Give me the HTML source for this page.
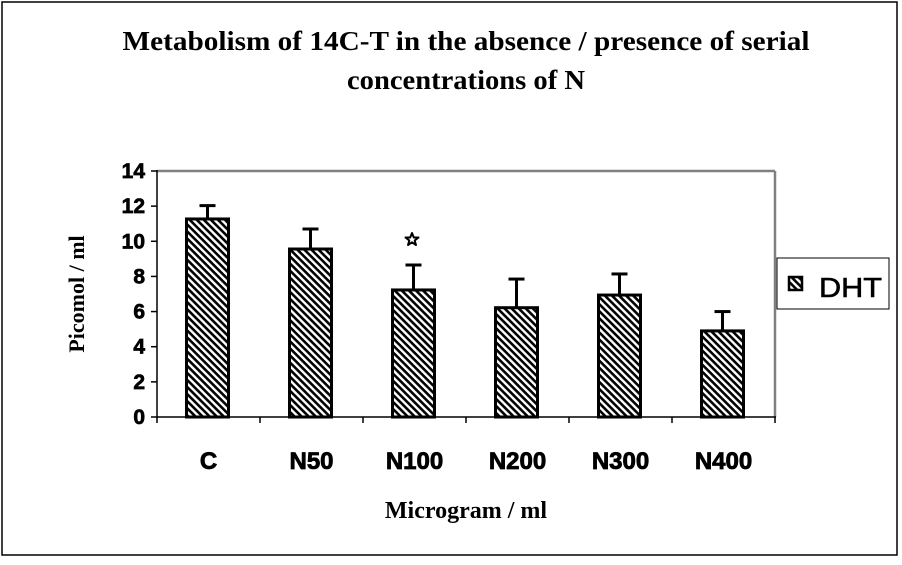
<!DOCTYPE html>
<html><head><meta charset="utf-8"><style>
body{margin:0;background:#fff}
</style></head><body>
<svg id="chart" width="902" height="560" xmlns="http://www.w3.org/2000/svg">
<defs>
<pattern id="hatch" width="5" height="5" patternUnits="userSpaceOnUse" patternTransform="rotate(45)">
<rect width="5" height="5" fill="#fff"/><rect width="5" height="2.6" fill="#000"/>
</pattern>
</defs>
<rect x="2" y="2" width="895" height="553" fill="#fff" stroke="#000" stroke-width="1.5"/>
<text x="466" y="50" text-anchor="middle" font-size="27" font-weight="bold" font-family="Liberation Serif,serif" textLength="687" lengthAdjust="spacingAndGlyphs">Metabolism of 14C-T in the absence / presence of serial</text>
<text x="466" y="89" text-anchor="middle" font-size="27" font-weight="bold" font-family="Liberation Serif,serif" textLength="238" lengthAdjust="spacingAndGlyphs">concentrations of N</text>
<line x1="157" y1="171" x2="775" y2="171" stroke="#808080" stroke-width="2.5"/>
<line x1="775" y1="171" x2="775" y2="417" stroke="#808080" stroke-width="2.5"/>
<g id="marks"></g>
<line x1="157" y1="170" x2="157" y2="418" stroke="#000" stroke-width="1.5"/>
<line x1="157" y1="417" x2="776" y2="417" stroke="#000" stroke-width="1.5"/>
<polygon points="412,233 413.8,237.5 418.5,237.5 414.7,240.5 416,245 412,242.3 408,245 409.3,240.5 405.5,237.5 410.2,237.5" fill="#fff" stroke="#000" stroke-width="2" stroke-linejoin="round"/>
<text transform="translate(84,294) rotate(-90)" text-anchor="middle" font-size="22" font-weight="bold" font-family="Liberation Serif,serif">Picomol / ml</text>
<text x="466" y="518" text-anchor="middle" font-size="24" font-weight="bold" font-family="Liberation Serif,serif">Microgram / ml</text>
<g>
<rect x="777" y="258" width="112" height="51" fill="#fff" stroke="#000" stroke-width="1"/>
<rect x="789" y="277" width="13" height="13" fill="url(#hatch)" stroke="#000" stroke-width="2.5"/>
<text x="819" y="297" font-size="28" font-family="Liberation Sans,sans-serif" stroke="#000" stroke-width="0.6" textLength="63" lengthAdjust="spacingAndGlyphs">DHT</text>
</g>
</svg>
<script>
const categories=["C","N50","N100","N200","N300","N400"];
const values=[11.27,9.56,7.23,6.22,6.94,4.9];
const errors=[0.76,1.14,1.42,1.63,1.2,1.1];
const yTicks=[0,2,4,6,8,10,12,14];
const NS="http://www.w3.org/2000/svg";
const x0=157,x1=775,y0=417,y1=171,yMax=14;
const band=(x1-x0)/categories.length;
const ys=v=>y0-(v/yMax)*(y0-y1);
const xc=i=>x0+band*(i+0.5);
const g=document.getElementById('marks');
function mk(t,a){const e=document.createElementNS(NS,t);for(const k in a)e.setAttribute(k,a[k]);g.appendChild(e);return e;}
yTicks.forEach(t=>{
 const l=mk('line',{x1:151,x2:157,y1:ys(t),y2:ys(t),stroke:'#000','stroke-width':1.5});
 
 
 const tx=mk('text',{x:145,y:ys(t)+7,'text-anchor':'end','font-size':21,'font-weight':'bold','font-family':'Liberation Sans,sans-serif',stroke:'#000','stroke-width':0.7});
 tx.textContent=t;
 
 
});
for(let i=0;i<=categories.length;i++){
 const l=mk('line',{x1:x0+band*i,x2:x0+band*i,y1:417,y2:423,stroke:'#000','stroke-width':1.5});
 
 
}
categories.forEach((c,i)=>{
 const cx=xc(i)-1,w=42;
 const top=ys(values[i]),et=ys(values[i]+errors[i]);
 const e1=mk('line',{x1:cx,x2:cx,y1:top,y2:et,stroke:'#000','stroke-width':3});
 
 
 const e2=mk('line',{x1:cx-8,x2:cx+8,y1:et,y2:et,stroke:'#000','stroke-width':3});
 
 
 const r=mk('rect',{x:cx-w/2,y:top,width:w,height:y0-top,fill:'url(#hatch)',stroke:'#000','stroke-width':3});
 
 
 const t=mk('text',{x:xc(i),y:469,'text-anchor':'middle','font-size':24,'font-weight':'bold','font-family':'Liberation Sans,sans-serif',stroke:'#000','stroke-width':0.8});
 t.textContent=c;
 
 
});
</script>
</body></html>
